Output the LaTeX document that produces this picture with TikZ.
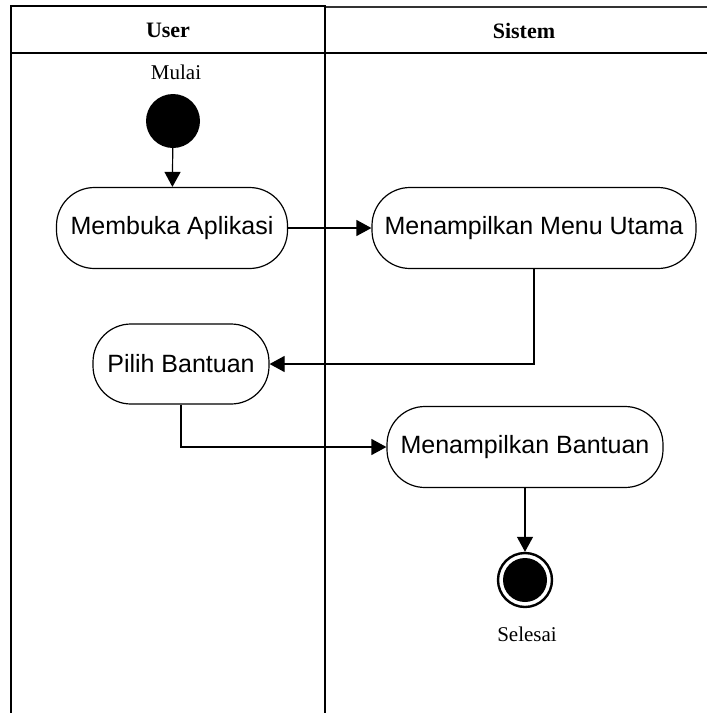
\documentclass[tikz,border=0pt]{standalone}
\usepackage{fontspec}
\setmainfont{Liberation Serif}
\newfontfamily\actfont{Liberation Sans}
\usetikzlibrary{arrows.meta}

\begin{document}
\begin{tikzpicture}[x=1pt, y={(0pt,-1pt)},
  lane/.style={line width=2pt, line cap=rect},
  activity/.style={draw, line width=1.2pt, rounded corners=38pt,
    minimum height=81pt, inner sep=0pt,
    font=\actfont\fontsize{25}{30}\selectfont},
  flow/.style={line width=1.2pt, -{Triangle[length=15pt, width=16pt]}},
  lanetitle/.style={font=\fontsize{22}{26}\selectfont\bfseries},
  caption/.style={font=\fontsize{21}{25}\selectfont}
]
\useasboundingbox (0,0) rectangle (707,713);

% swimlanes
\draw[lane] (11,713) -- (11,6) -- (325,6);
\draw[line width=1.5pt, black!80] (325,7) -- (707,7);
\draw[lane] (11,53) -- (707,53);
\draw[lane] (325,6) -- (325,713);
\node[lanetitle] (laneUser) at (168,30) {User};
\node[lanetitle] (laneSys) at (524,31) {Sistem};

% start and end
\node[caption] (startLbl) at (176,72) {Mulai};
\node[circle, fill=black, minimum size=54pt, inner sep=0pt] (start) at (173,121) {};

\node[circle, draw, line width=2.4pt, minimum size=54pt, inner sep=0pt] (stop) at (525,580) {};
\node[circle, fill=black, minimum size=44pt, inner sep=0pt] (stopIn) at (525,580) {};
\node[caption] (stopLbl) at (527,634) {Selesai};

% activities
\node[activity, minimum width=231pt] (open) at (172,228) {Membuka Aplikasi};
\node[activity, minimum width=324pt] (menu) at (534,228) {Menampilkan Menu Utama};
\node[activity, minimum width=176pt, minimum height=80pt] (help) at (181,364) {Pilih Bantuan};
\node[activity, minimum width=276pt] (show) at (525,447) {Menampilkan Bantuan};

% control flow
\draw[flow] (start) -- (open);
\draw[flow] (open) -- (menu);
\draw[flow] (menu.south) |- (help.east);
\draw[flow] (help.south) |- (show.west);
\draw[flow] (show) -- (stop);
\end{tikzpicture}
\end{document}
